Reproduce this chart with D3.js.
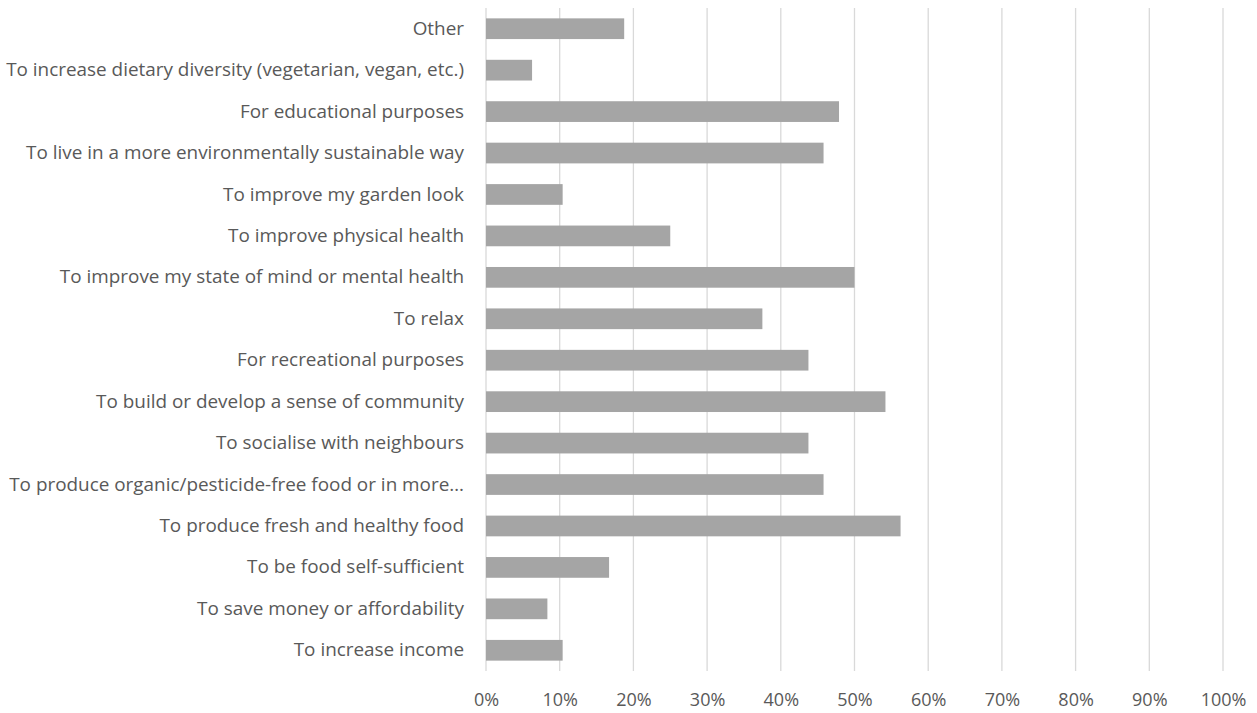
<!DOCTYPE html>
<html>
<head>
<meta charset="utf-8">
<script src="https://cdn.jsdelivr.net/npm/d3@7"></script>
<style>
  html, body { margin: 0; padding: 0; background: #fff; }
  svg { display: block; }
</style>
</head>
<body>
<svg id="chart" width="1257" height="713"></svg>
<script>
// Categories listed top to bottom
const categories = [
  "Other",
  "To increase dietary diversity (vegetarian, vegan, etc.)",
  "For educational purposes",
  "To live in a more environmentally sustainable way",
  "To improve my garden look",
  "To improve physical health",
  "To improve my state of mind or mental health",
  "To relax",
  "For recreational purposes",
  "To build or develop a sense of community",
  "To socialise with neighbours",
  "To produce organic/pesticide-free food or in more…",
  "To produce fresh and healthy food",
  "To be food self-sufficient",
  "To save money or affordability",
  "To increase income"
];
const values = [0.1875, 0.0625, 0.479, 0.458, 0.104, 0.25, 0.50, 0.375, 0.4375, 0.542, 0.4375, 0.458, 0.5625, 0.167, 0.0833, 0.104];
const tickValues = [0, 0.1, 0.2, 0.3, 0.4, 0.5, 0.6, 0.7, 0.8, 0.9, 1.0];

const svg = d3.select("#chart");
const plotLeft = 486, plotRight = 1223, plotTop = 8, plotBottom = 671;

const x = d3.scaleLinear().domain([0, 1]).range([plotLeft, plotRight]);
const y = d3.scaleBand().domain(categories).range([plotTop, plotBottom]).paddingInner(0.5).paddingOuter(0.25);

const font = "'Open Sans', sans-serif";

// gridlines
svg.append("g")
  .selectAll("line")
  .data(tickValues)
  .join("line")
  .attr("x1", d => x(d)).attr("x2", d => x(d))
  .attr("y1", plotTop).attr("y2", plotBottom)
  .attr("stroke", "#d9d9d9")
  .attr("stroke-width", 1.3);

// bars
svg.append("g")
  .selectAll("rect")
  .data(categories)
  .join("rect")
  .attr("x", x(0))
  .attr("y", d => y(d))
  .attr("width", (d, i) => x(values[i]) - x(0))
  .attr("height", y.bandwidth())
  .attr("fill", "#a5a5a5");

// y axis labels
const yAxis = d3.axisLeft(y).tickSize(0).tickPadding(22);
const gy = svg.append("g").attr("transform", `translate(${plotLeft},0)`).call(yAxis);
gy.select(".domain").remove();
gy.selectAll("text")
  .attr("fill", "#595959")
  .style("font-family", font)
  .style("font-size", "18.9px");

// x axis labels
const xAxis = d3.axisBottom(x).tickValues(tickValues).tickFormat(d3.format(".0%")).tickSize(0).tickPadding(22);
const gx = svg.append("g").attr("transform", `translate(0,${plotBottom})`).call(xAxis);
gx.select(".domain").remove();
gx.selectAll("text")
  .attr("fill", "#595959")
  .style("font-family", font)
  .style("font-size", "18px");
</script>
</body>
</html>
